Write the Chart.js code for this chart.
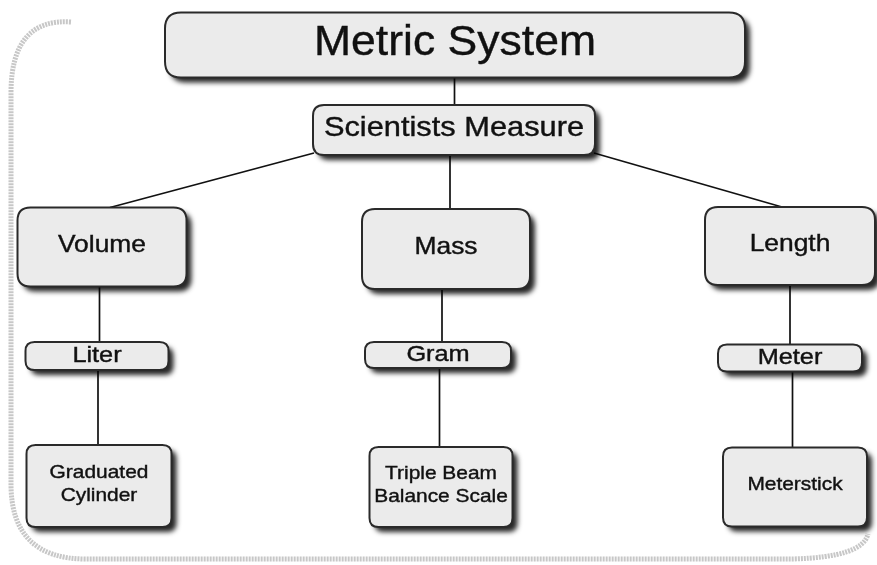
<!DOCTYPE html>
<html>
<head>
<meta charset="utf-8">
<script src="https://cdn.jsdelivr.net/npm/chart.js@4.4.1/dist/chart.umd.min.js"></script>
<style>
  html, body { margin: 0; padding: 0; background: #ffffff; }
  #wrap { width: 877px; height: 565px; }
</style>
</head>
<body>
<div id="wrap"><canvas id="c" width="877" height="565"></canvas></div>
<script>
// ---- diagram data (in chart units, x: 0..877, y: 0..565 top-down) ----
const nodeLabels = ['Metric System', 'Scientists Measure', 'Volume', 'Mass', 'Length',
                    'Liter', 'Gram', 'Meter',
                    'Graduated\nCylinder', 'Triple Beam\nBalance Scale', 'Meterstick'];
const nodeX = [455, 454, 102, 446, 790, 97, 438, 790, 99, 441, 795];
const nodeY = [45, 130, 247, 249, 246, 356, 355, 358, 486, 487, 487];
const nodeW = [580, 282, 169, 168, 170, 143, 146, 144, 145, 143, 144];
const nodeH = [65, 50, 79, 80, 78, 28, 26, 27, 82, 80, 79];
const nodeFont = [42, 28, 24, 24, 24, 22, 22, 22, 19, 19, 19];
const nodeStretch = [1.06, 1.1, 1.1, 1.1, 1.1, 1.15, 1.15, 1.15, 1.1, 1.1, 1.1];
const nodeRadius = [16, 11, 13, 13, 13, 9, 9, 9, 9, 9, 9];
const edgeFrom = [0, 1, 1, 1, 2, 3, 4, 5, 6, 7];
const edgeTo   = [1, 2, 3, 4, 5, 6, 7, 8, 9, 10];

// ---- build edge datasets from node geometry ----
function edgePoints(p, c) {
  const px = nodeX[p], py = nodeY[p], pw = nodeW[p], ph = nodeH[p];
  const cx = nodeX[c], cy = nodeY[c], ch = nodeH[c];
  if (Math.abs(cx - px) > pw / 2) {
    const side = cx < px ? -1 : 1;
    return [{x: px + side * (pw / 2 - 1), y: py + ph / 2 - 2}, {x: cx - side * 8, y: cy - ch / 2}];
  }
  const x = (px + cx) / 2;
  return [{x: x, y: py + ph / 2}, {x: x, y: cy - ch / 2}];
}
const edgeDatasets = edgeFrom.map((p, i) => ({
  type: 'scatter',
  data: edgePoints(p, edgeTo[i]),
  showLine: true,
  borderColor: '#111111',
  borderWidth: 1.7,
  pointRadius: 0,
  order: 2
}));
const nodeDataset = {
  type: 'scatter',
  data: nodeX.map((x, i) => ({x: x, y: nodeY[i]})),
  pointRadius: 0,
  order: 1
};

function rr(ctx, x, y, w, h, r) {
  ctx.beginPath();
  ctx.moveTo(x + r, y);
  ctx.lineTo(x + w - r, y);
  ctx.quadraticCurveTo(x + w, y, x + w, y + r);
  ctx.lineTo(x + w, y + h - r);
  ctx.quadraticCurveTo(x + w, y + h, x + w - r, y + h);
  ctx.lineTo(x + r, y + h);
  ctx.quadraticCurveTo(x, y + h, x, y + h - r);
  ctx.lineTo(x, y + r);
  ctx.quadraticCurveTo(x, y, x + r, y);
  ctx.closePath();
}

const framePlugin = {
  id: 'frame',
  beforeDatasetsDraw(chart) {
    const ctx = chart.ctx;
    const xs = chart.scales.x, ys = chart.scales.y;
    const L = xs.getPixelForValue(11), R = xs.getPixelForValue(868);
    const T = ys.getPixelForValue(18), B = ys.getPixelForValue(559);
    const r = 75;
    ctx.save();
    ctx.strokeStyle = 'rgba(175,175,175,0.7)';
    ctx.lineWidth = 5;
    ctx.setLineDash([2, 1]);
    ctx.beginPath();
    ctx.moveTo(L + r * 0.8, T + 4);
    ctx.quadraticCurveTo(L, T, L, T + r);
    ctx.lineTo(L, B - r);
    ctx.quadraticCurveTo(L, B, L + r, B);
    ctx.lineTo(R - r, B);
    ctx.quadraticCurveTo(R - 5, B - 2, R, B - 25);
    ctx.stroke();
    ctx.restore();
  }
};

const boxPlugin = {
  id: 'boxes',
  afterDatasetsDraw(chart) {
    const ctx = chart.ctx;
    const xs = chart.scales.x, ys = chart.scales.y;
    nodeLabels.forEach((label, i) => {
      const x0 = xs.getPixelForValue(nodeX[i] - nodeW[i] / 2);
      const x1 = xs.getPixelForValue(nodeX[i] + nodeW[i] / 2);
      const y0 = ys.getPixelForValue(nodeY[i] - nodeH[i] / 2);
      const y1 = ys.getPixelForValue(nodeY[i] + nodeH[i] / 2);
      const w = x1 - x0, h = y1 - y0;
      ctx.save();
      ctx.shadowColor = 'rgba(0,0,0,0.85)';
      ctx.shadowBlur = 5;
      ctx.shadowOffsetX = 5;
      ctx.shadowOffsetY = 5;
      rr(ctx, x0, y0, w, h, nodeRadius[i]);
      ctx.fillStyle = '#ebebeb';
      ctx.fill();
      ctx.restore();
      ctx.save();
      rr(ctx, x0, y0, w, h, nodeRadius[i]);
      ctx.strokeStyle = '#2a2a2a';
      ctx.lineWidth = 2;
      ctx.stroke();
      const lines = label.split('\n');
      const fs = nodeFont[i];
      const lh = fs * 1.2;
      const cx = xs.getPixelForValue(nodeX[i]);
      const cy = ys.getPixelForValue(nodeY[i]) - (h > 40 ? 2 : 0);
      ctx.font = fs + 'px "Liberation Sans", Arial, sans-serif';
      ctx.fillStyle = '#111111';
      ctx.strokeStyle = '#111111';
      ctx.lineWidth = 0.4;
      ctx.textAlign = 'center';
      ctx.textBaseline = 'middle';
      ctx.translate(cx, cy);
      ctx.scale(nodeStretch[i], 1);
      lines.forEach((t, k) => {
        const ty = (k - (lines.length - 1) / 2) * lh;
        ctx.fillText(t, 0, ty);
        ctx.strokeText(t, 0, ty);
      });
      ctx.restore();
    });
  }
};

new Chart(document.getElementById('c'), {
  data: { datasets: [nodeDataset, ...edgeDatasets] },
  options: {
    responsive: false,
    animation: false,
    events: [],
    layout: { padding: 0 },
    plugins: { legend: { display: false }, tooltip: { enabled: false } },
    scales: {
      x: { type: 'linear', min: 0, max: 877, display: false },
      y: { type: 'linear', min: 0, max: 565, reverse: true, display: false }
    }
  },
  plugins: [framePlugin, boxPlugin]
});
</script>
</body>
</html>
